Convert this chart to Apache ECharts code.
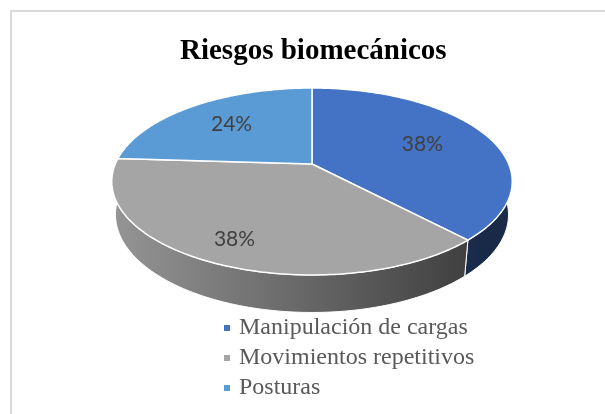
<!DOCTYPE html>
<html>
<head>
<meta charset="utf-8">
<script src="https://cdn.jsdelivr.net/npm/echarts@6/dist/echarts.min.js"></script>
<style>
  html, body { margin: 0; padding: 0; background: #fff; }
  #chart { width: 605px; height: 414px; }
</style>
</head>
<body>
<div id="chart"></div>
<script>
const categories = ['Manipulación de cargas', 'Movimientos repetitivos', 'Posturas'];
const values = [38, 38, 24];
const colors = ['#4472C4', '#A5A5A5', '#5B9BD5'];
const labelRadius = [0.63, 0.8, 0.65];

// camera for the 3d pie (seen from above, with perspective like Excel)
const view = { cx: 312, cy: 164, scale: 196.7, dist: 4.75, tilt: 27.3 * Math.PI / 180, height: 0.19 };
const total = values.reduce((a, b) => a + b, 0);

function project(x, y, z) {
  const sa = Math.sin(view.tilt), ca = Math.cos(view.tilt);
  const depth = view.dist - (y * sa + z * ca);
  const v = y * ca - z * sa;
  const k = view.scale * view.dist / depth;
  return [view.cx + x * k, view.cy - v * k];
}
// angle measured from 12 o'clock, clockwise
function rim(a, r, y) {
  return project(r * Math.sin(a), y, -r * Math.cos(a));
}
function arc(a0, a1, y) {
  const n = Math.max(2, Math.ceil((a1 - a0) / (Math.PI / 180)));
  const pts = [];
  for (let i = 0; i <= n; i++) pts.push(rim(a0 + (a1 - a0) * i / n, 1, y));
  return pts;
}
function shade(hex, f) {
  const n = parseInt(hex.slice(1), 16);
  const r = Math.round(((n >> 16) & 255) * f);
  const g = Math.round(((n >> 8) & 255) * f);
  const b = Math.round((n & 255) * f);
  return 'rgb(' + r + ',' + g + ',' + b + ')';
}

function makeSlice(i) {
  return function (params, api) {
    const val = api.value(0);
    const before = values.slice(0, i).reduce((a, b) => a + b, 0);
    const a0 = before / total * Math.PI * 2;
    const a1 = (before + val) / total * Math.PI * 2;
    const children = [];

    // front wall, only the part facing the viewer
    const w0 = Math.max(a0, Math.PI / 2), w1 = Math.min(a1, Math.PI * 1.5);
    if (w1 > w0) {
      const top = arc(w0, w1, 0);
      const bottom = arc(w0, w1, -view.height).reverse();
      children.push({
        type: 'polygon',
        z2: 1,
        shape: { points: top.concat(bottom) },
        style: {
          fill: new echarts.graphic.LinearGradient(112, 0, 480, 0, [
            { offset: 0, color: shade(colors[i], 0.9) },
            { offset: 1, color: shade(colors[i], 0.37) }
          ], true),
          stroke: '#fff',
          lineWidth: 1
        }
      });
    }

    // top face
    children.push({
      type: 'polygon',
      z2: 2,
      shape: { points: [project(0, 0, 0)].concat(arc(a0, a1, 0)) },
      style: { fill: colors[i], stroke: '#fff', lineWidth: 1.5, lineJoin: 'round' }
    });

    // percentage label
    const mid = (a0 + a1) / 2;
    const p = rim(mid, labelRadius[i], 0);
    children.push({
      type: 'text',
      z2: 3,
      style: {
        text: Math.round(val / total * 100) + '%',
        x: p[0],
        y: p[1],
        textAlign: 'center',
        textVerticalAlign: 'middle',
        fill: '#404040',
        font: '21px Lato'
      }
    });
    return { type: 'group', children: children };
  };
}

const chart = echarts.init(document.getElementById('chart'));
chart.setOption({
  animation: false,
  title: {
    text: 'Riesgos biomecánicos',
    left: 180,
    top: 37,
    padding: 0,
    textStyle: { fontFamily: 'Liberation Serif', fontWeight: 'bold', fontSize: 29, color: '#000' }
  },
  legend: {
    orient: 'vertical',
    left: 224,
    top: 316,
    padding: 0,
    itemWidth: 6,
    itemHeight: 6,
    itemGap: 6,
    icon: 'rect',
    data: categories,
    textStyle: { fontFamily: 'Liberation Serif', fontSize: 24, color: '#595959', padding: [0, 0, 0, 4] }
  },
  graphic: [{
    type: 'rect',
    shape: { x: 11, y: 11, width: 640, height: 440 },
    style: { fill: 'none', stroke: '#d9d9d9', lineWidth: 2 },
    silent: true
  }],
  series: categories.map((name, i) => ({
    type: 'custom',
    name: name,
    coordinateSystem: 'none',
    itemStyle: { color: colors[i] },
    data: [values[i]],
    renderItem: makeSlice(i)
  }))
});
</script>
</body>
</html>
